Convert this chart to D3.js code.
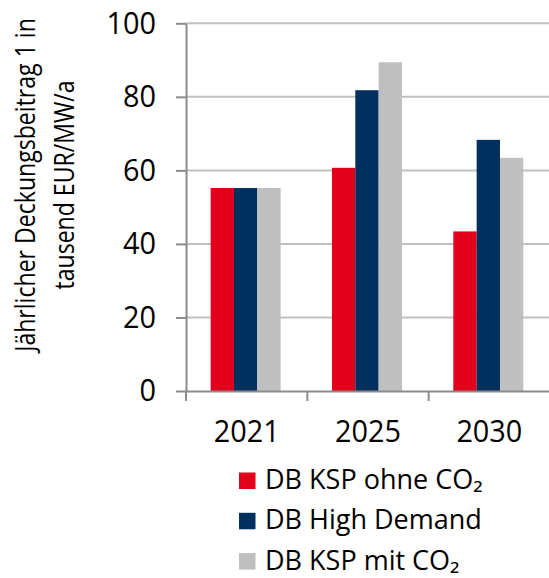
<!DOCTYPE html>
<html>
<head>
<meta charset="utf-8">
<script src="https://cdn.jsdelivr.net/npm/d3@7"></script>
<style>
  html, body { margin: 0; padding: 0; background: #fff; }
  svg { display: block; }
  text { font-family: "Open Sans", "Noto Sans", sans-serif; fill: #000; }
</style>
</head>
<body>
<svg id="chart" width="549" height="578"></svg>
<script>
// Jährlicher Deckungsbeitrag (tausend EUR/MW/a) per scenario and year
const categories = ["2021", "2025", "2030"];
const seriesNames = ["DB KSP ohne CO₂", "DB High Demand", "DB KSP mit CO₂"];
const kspOhneCO2 = [55.2, 60.7, 43.4];
const highDemand = [55.2, 81.8, 68.3];
const kspMitCO2 = [55.2, 89.4, 63.4];
const yTickValues = [0, 20, 40, 60, 80, 100];
const seriesColors = ["#e2001a", "#00305e", "#bfbfbf"];

const seriesValues = [kspOhneCO2, highDemand, kspMitCO2];
const rows = categories.map((c, i) => ({
  cat: c,
  vals: seriesNames.map((s, k) => ({ series: s, k, value: seriesValues[k][i] }))
}));

const svg = d3.select("#chart");
const plot = { left: 186, right: 550, top: 23.3, bottom: 391 };
const axisColor = "#8c8c8c";
const narrow = 0.93; // horizontal squeeze for the narrow axis lettering

const x0 = d3.scaleBand().domain(categories).range([plot.left, plot.right]).padding(0);
const x1 = d3.scaleBand().domain(seriesNames).range([0, x0.bandwidth()])
  .paddingInner(0).paddingOuter(1.1).align(0.48);
const y = d3.scaleLinear().domain([0, 100]).range([plot.bottom, plot.top]);

// horizontal gridlines
svg.append("g")
  .selectAll("line")
  .data(yTickValues.filter(v => v > 0))
  .join("line")
  .attr("x1", plot.left).attr("x2", plot.right)
  .attr("y1", d => y(d)).attr("y2", d => y(d))
  .attr("stroke", "#c0c0c0").attr("stroke-width", 2);

// bars
svg.append("g")
  .selectAll("g")
  .data(rows)
  .join("g")
  .attr("transform", d => `translate(${x0(d.cat)},0)`)
  .selectAll("rect")
  .data(d => d.vals)
  .join("rect")
  .attr("x", d => x1(d.series))
  .attr("width", x1.bandwidth())
  .attr("y", d => y(d.value))
  .attr("height", d => y(0) - y(d.value))
  .attr("fill", d => seriesColors[d.k]);

// y axis
const yAxis = svg.append("g")
  .attr("transform", `translate(${plot.left},0)`)
  .call(d3.axisLeft(y).tickValues(yTickValues).tickSize(10).tickPadding(20).tickSizeOuter(0));
yAxis.select(".domain").attr("stroke", axisColor).attr("stroke-width", 2);
yAxis.selectAll(".tick line").attr("stroke", axisColor).attr("stroke-width", 2);
yAxis.selectAll(".tick text")
  .attr("x", -30 / narrow)
  .attr("transform", `scale(${narrow},1)`)
  .style("font-family", "'Open Sans', sans-serif")
  .style("font-size", "31px")
  .attr("fill", "#000");

// x axis: labels centred in each band, tick marks on band boundaries
const xAxis = svg.append("g")
  .attr("transform", `translate(0,${plot.bottom})`)
  .call(d3.axisBottom(x0).tickSize(0).tickPadding(29));
xAxis.select(".domain").attr("stroke", axisColor).attr("stroke-width", 2);
xAxis.selectAll(".tick text")
  .attr("transform", `scale(${narrow},1)`)
  .style("font-family", "'Open Sans', sans-serif")
  .style("font-size", "31px")
  .attr("fill", "#000");
xAxis.append("g")
  .selectAll("line")
  .data(categories)
  .join("line")
  .attr("x1", d => x0(d)).attr("x2", d => x0(d))
  .attr("y1", 0).attr("y2", 10)
  .attr("stroke", axisColor).attr("stroke-width", 2);

// y axis title (two lines)
const title = svg.append("text")
  .attr("transform", "translate(0,185) rotate(-90) scale(0.855,1)")
  .attr("text-anchor", "middle")
  .style("font-size", "27px");
title.append("tspan").attr("x", 0).attr("y", 35.5).text("Jährlicher Deckungsbeitrag 1 in");
title.append("tspan").attr("x", 0).attr("y", 74).text("tausend EUR/MW/a");

// legend
const legend = svg.append("g").attr("transform", "translate(239,472.5)");
const item = legend.selectAll("g")
  .data(seriesNames)
  .join("g")
  .attr("transform", (d, i) => `translate(0,${i * 40.3})`);
item.append("rect")
  .attr("width", 16.5).attr("height", 16.5)
  .attr("fill", (d, i) => seriesColors[i]);
item.append("text")
  .attr("x", 26).attr("y", 16.5)
  .style("font-size", "27px")
  .text(d => d);
</script>
</body>
</html>
